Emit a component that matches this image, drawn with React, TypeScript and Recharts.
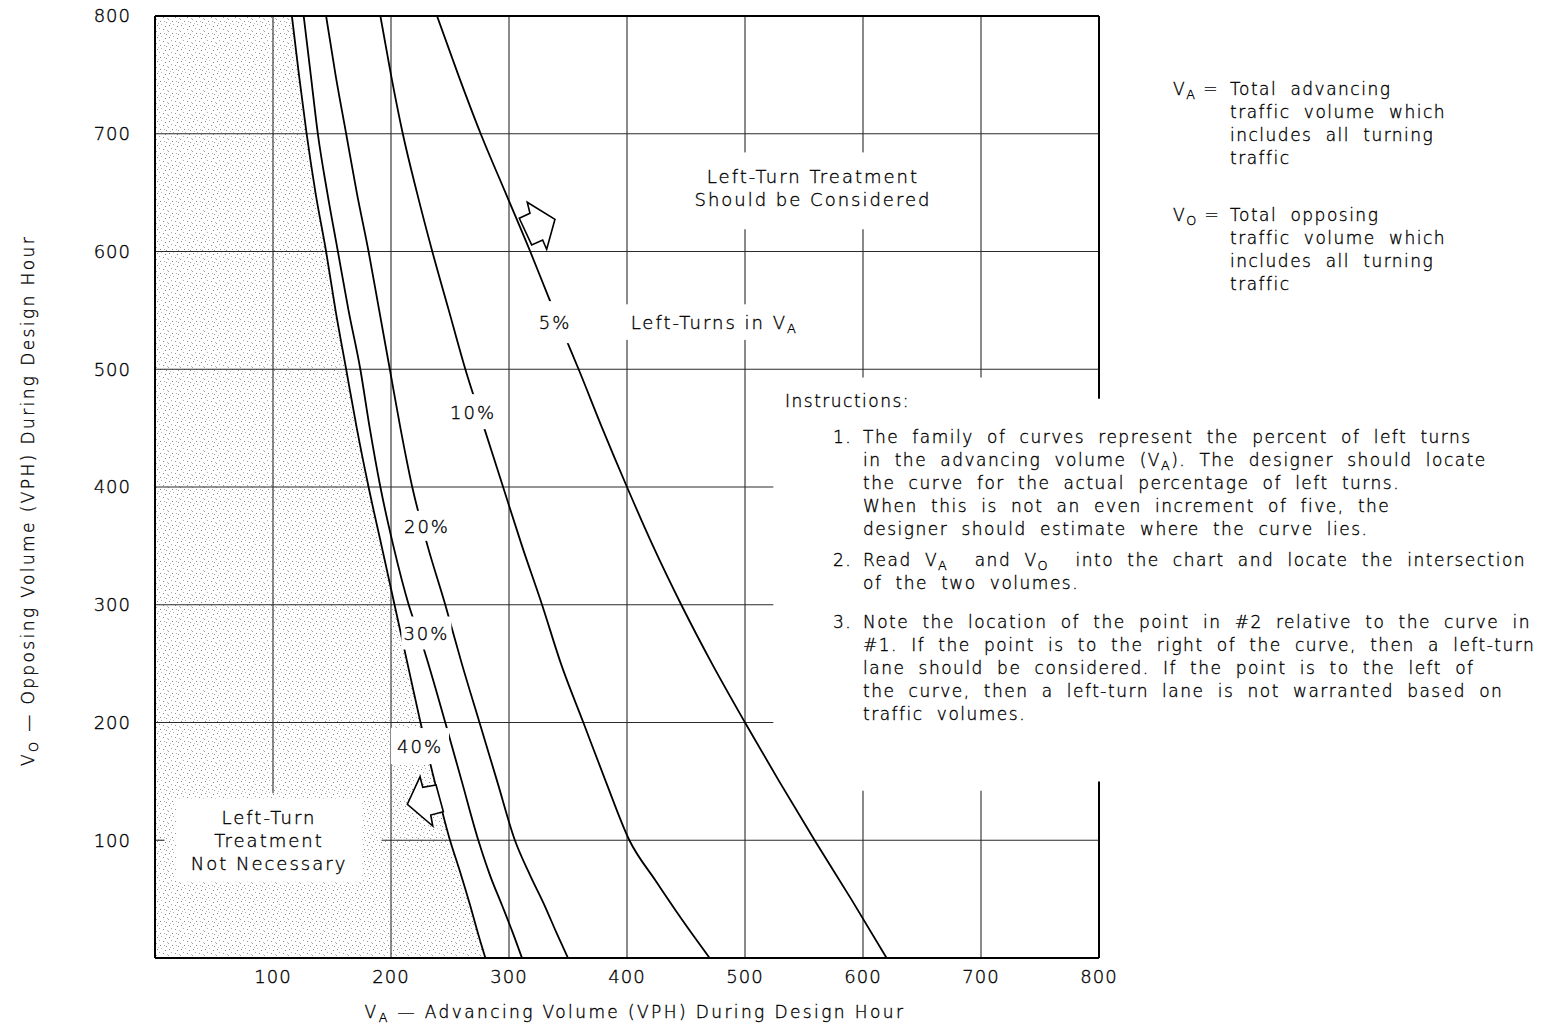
import React from 'react';
import { ComposedChart, XAxis, YAxis, Line, Area, Scatter, ReferenceLine } from 'recharts';

const xTicks = [100, 200, 300, 400, 500, 600, 700, 800];
const yTicks = [100, 200, 300, 400, 500, 600, 700, 800];

const curve5 = [
  { x: 239, y: 800 }, { x: 257, y: 750 }, { x: 276, y: 700 }, { x: 297, y: 650 },
  { x: 318, y: 600 }, { x: 334, y: 560 }, { x: 349, y: 524 }, { x: 359, y: 500 },
  { x: 379, y: 450 }, { x: 400, y: 400 }, { x: 422, y: 350 }, { x: 446, y: 300 },
  { x: 472, y: 250 }, { x: 500, y: 200 }, { x: 529, y: 150 }, { x: 559, y: 100 },
  { x: 590, y: 50 }, { x: 620, y: 0 },
];
const curve10 = [
  { x: 191, y: 800 }, { x: 200, y: 750 }, { x: 210, y: 700 }, { x: 222, y: 650 },
  { x: 235, y: 600 }, { x: 249, y: 550 }, { x: 263, y: 500 }, { x: 279, y: 450 },
  { x: 295, y: 400 }, { x: 311, y: 350 }, { x: 328, y: 300 }, { x: 344, y: 250 },
  { x: 363, y: 200 }, { x: 382, y: 150 }, { x: 402, y: 100 }, { x: 424, y: 66 },
  { x: 447, y: 32 }, { x: 470, y: 0 },
];
const curve20 = [
  { x: 145, y: 800 }, { x: 153, y: 750 }, { x: 162, y: 700 }, { x: 171, y: 650 },
  { x: 181, y: 600 }, { x: 190, y: 550 }, { x: 199, y: 500 }, { x: 208, y: 450 },
  { x: 218, y: 400 }, { x: 231, y: 350 }, { x: 246, y: 300 }, { x: 260, y: 250 },
  { x: 275, y: 200 }, { x: 290, y: 150 }, { x: 305, y: 100 }, { x: 318, y: 70 },
  { x: 330, y: 45 }, { x: 340, y: 22 }, { x: 350, y: 0 },
];
const curve30 = [
  { x: 126, y: 800 }, { x: 132, y: 750 }, { x: 138, y: 700 }, { x: 146, y: 650 },
  { x: 155, y: 600 }, { x: 164, y: 550 }, { x: 174, y: 500 }, { x: 182, y: 450 },
  { x: 191, y: 400 }, { x: 202, y: 350 }, { x: 215, y: 300 }, { x: 227, y: 265 },
  { x: 246, y: 200 }, { x: 260, y: 150 }, { x: 274, y: 100 }, { x: 284, y: 70 },
  { x: 294, y: 45 }, { x: 303, y: 22 }, { x: 311, y: 0 },
];
const curve40 = [
  { x: 116, y: 800 }, { x: 122, y: 750 }, { x: 128.5, y: 700 }, { x: 136, y: 650 },
  { x: 145, y: 600 }, { x: 153, y: 550 }, { x: 162, y: 500 }, { x: 171, y: 450 },
  { x: 181, y: 400 }, { x: 192, y: 350 }, { x: 203, y: 300 }, { x: 214, y: 250 },
  { x: 225, y: 200 }, { x: 237, y: 150 }, { x: 250, y: 100 }, { x: 258, y: 75 },
  { x: 267, y: 45 }, { x: 274, y: 20 }, { x: 280, y: 0 },
];
const shadedRegion = [{ x: 0, y: 800 }, ...curve40];

// grid segments in data units: [x1, y1, x2, y2]
const gridSegments = [
  [100, 800, 100, 140],
  [200, 800, 200, 0],
  [300, 800, 300, 0],
  [400, 800, 400, 555], [400, 525, 400, 0],
  [500, 800, 500, 680], [500, 619, 500, 555], [500, 525, 500, 0],
  [600, 800, 600, 680], [600, 619, 600, 493], [600, 142, 600, 0],
  [700, 800, 700, 493], [700, 142, 700, 0],
  [0, 700, 800, 700], [0, 600, 800, 600], [0, 500, 800, 500],
  [0, 400, 524, 400], [0, 300, 524, 300], [0, 200, 524, 200],
  [0, 100, 8, 100], [192, 100, 800, 100],
];
const borderSegments = [
  [0, 800, 800, 800],
  [800, 800, 800, 475], [800, 150, 800, 0],
];

const plotLabels = [
  { id: 'p5', x: 339, y: 540, lines: ['5%'] },
  { id: 'p10', x: 269.5, y: 464, lines: ['10%'] },
  { id: 'p20', x: 230.5, y: 367, lines: ['20%'] },
  { id: 'p30', x: 230, y: 276, lines: ['30%'] },
  { id: 'p40', x: 224.6, y: 180, lines: ['40%'] },
  { id: 'lt', x: 474, y: 540, lines: ['Left-Turns in V_A'] },
  { id: 'sc', x: 557.6, y: 654, lines: ['Left-Turn Treatment', 'Should be Considered'] },
  { id: 'nn', x: 96.6, y: 100, lines: ['Left-Turn', 'Treatment', 'Not Necessary'] },
];
const arrowAnchors = [
  { id: 'right', x: 323.7, y: 621.7 },
  { id: 'left', x: 231.4, y: 129.1 },
];

const legendBlocks = [
  { sym: 'V_A =', lines: ['Total advancing', 'traffic volume which', 'includes all turning', 'traffic'] },
  { sym: 'V_O =', lines: ['Total opposing', 'traffic volume which', 'includes all turning', 'traffic'] },
];
const instructionsTitle = 'Instructions:';
const instructionItems = [
  {
    num: '1.',
    lines: [
      'The family of curves represent the percent of left turns',
      'in the advancing volume (V_A). The designer should locate',
      'the curve for the actual percentage of left turns.',
      'When this is not an even increment of five, the',
      'designer should estimate where the curve lies.',
    ],
  },
  {
    num: '2.',
    lines: [
      'Read V_A  and V_O  into the chart and locate the intersection',
      'of the two volumes.',
    ],
  },
  {
    num: '3.',
    lines: [
      'Note the location of the point in #2 relative to the curve in',
      '#1. If the point is to the right of the curve, then a left-turn',
      'lane should be considered. If the point is to the left of',
      'the curve, then a left-turn lane is not warranted based on',
      'traffic volumes.',
    ],
  },
];
const xAxisTitle = 'V_A — Advancing Volume (VPH) During Design Hour';
const yAxisTitle = 'V_O — Opposing Volume (VPH) During Design Hour';

// ---------- styles ----------
const FONT = '"DejaVu Sans", "Liberation Sans", sans-serif';
const FW = 200;
const INK = '#000';
const STROKE_W = 0.35;
const labelBoxes: Record<string, { w: number; h: number }> = {
  p5: { w: 50, h: 42 },
  p10: { w: 56, h: 35 },
  p20: { w: 60, h: 30 },
  p30: { w: 50, h: 33 },
  p40: { w: 58, h: 36 },
  lt: { w: 186, h: 35 },
  sc: { w: 245, h: 71 },
  nn: { w: 186, h: 83 },
};
const arrowShapes: Record<string, number[][]> = {
  right: [[-17.7, -7.7], [-7, -12.7], [-9.7, -23.7], [18, -6.7], [9.7, 23.3], [5.7, 14], [-5.3, 19]],
  left: [[8, -21], [-5.3, -18.7], [-8, -29.3], [-20.7, -1.7], [4.7, 20], [2.7, 9], [15.3, 5.7]],
};

function HtmlSub({ s }: { s: string }) {
  const parts = s.split(/(V_[AO])/);
  return (
    <>
      {parts.map((p, i) =>
        /^V_[AO]$/.test(p) ? (
          <span key={i}>
            V<span style={{ fontSize: '0.75em', position: 'relative', top: '0.35em' }}>{p[2]}</span>
          </span>
        ) : (
          <span key={i}>{p}</span>
        )
      )}
    </>
  );
}

function SvgSub({ s }: { s: string }) {
  const parts = s.split(/(V_[AO])/);
  const out: React.ReactNode[] = [];
  parts.forEach((p, i) => {
    if (/^V_[AO]$/.test(p)) {
      out.push(<tspan key={i + 'v'}>V</tspan>);
      out.push(
        <tspan key={i + 's'} dy={6} fontSize={13}>
          {p[2]}
        </tspan>
      );
      out.push(<tspan key={i + 'r'} dy={-6}>{''}</tspan>);
    } else if (p) {
      out.push(<tspan key={i}>{p}</tspan>);
    }
  });
  return <>{out}</>;
}

const LabelShape = (props: any) => {
  const { cx, cy, payload } = props;
  if (cx == null || cy == null || !payload) return null;
  const box = labelBoxes[payload.id];
  const n = payload.lines.length;
  const lh = 23;
  return (
    <g>
      <rect x={cx - box.w / 2} y={cy - box.h / 2} width={box.w} height={box.h} fill="#fff" />
      {payload.lines.map((ln: string, i: number) => (
        <text
          key={i}
          x={cx}
          y={cy + (i - (n - 1) / 2) * lh}
          textAnchor="middle"
          dominantBaseline="central"
          fontFamily={FONT}
          fontWeight={FW}
          fontSize={18}
          letterSpacing={2}
          fill={INK}
          stroke={INK}
          strokeWidth={STROKE_W}
        >
          <SvgSub s={ln} />
        </text>
      ))}
    </g>
  );
};

const ArrowShape = (props: any) => {
  const { cx, cy, payload } = props;
  if (cx == null || cy == null || !payload) return null;
  const pts = arrowShapes[payload.id].map(([dx, dy]) => `${cx + dx},${cy + dy}`).join(' ');
  return <polygon points={pts} fill="#fff" stroke="#000" strokeWidth={1.6} strokeLinejoin="miter" />;
};

const tickStyle = {
  fontFamily: FONT,
  fontWeight: FW,
  fontSize: 18,
  fill: INK,
  stroke: INK,
  strokeWidth: STROKE_W,
  letterSpacing: 1,
} as any;

const textBase: React.CSSProperties = {
  position: 'absolute',
  fontFamily: FONT,
  fontWeight: FW,
  fontSize: 17,
  letterSpacing: 1.5,
  wordSpacing: 6.3,
  color: INK,
  whiteSpace: 'pre',
  lineHeight: '23px',
  height: 23,
  WebkitTextStroke: `${STROKE_W}px ${INK}`,
} as any;

export default function App() {
  const W = 1543;
  const H = 1028;
  const curves = [curve5, curve10, curve20, curve30, curve40];
  return (
    <div style={{ position: 'relative', width: W, height: H, background: '#fff', overflow: 'hidden' }}>
      <style>{'html,body{margin:0;padding:0;background:#fff;}'}</style>
      <ComposedChart width={W} height={H} margin={{ top: 16, left: 95, right: 444, bottom: 30 }}>
        <defs>
          <pattern id="stipple" width="12" height="12" patternUnits="userSpaceOnUse">
            <rect x="0" y="0" width="12" height="12" fill="#fefefe" />
            <rect x="1" y="1" width="1" height="1" fill="#8a8a8a" />
            <rect x="5" y="0" width="1" height="1" fill="#b8b8b8" />
            <rect x="9" y="2" width="1" height="1" fill="#7d7d7d" />
            <rect x="3" y="4" width="1" height="1" fill="#a8a8a8" />
            <rect x="7" y="5" width="1" height="1" fill="#909090" />
            <rect x="11" y="6" width="1" height="1" fill="#bdbdbd" />
            <rect x="0" y="7" width="1" height="1" fill="#a0a0a0" />
            <rect x="4" y="9" width="1" height="1" fill="#858585" />
            <rect x="8" y="9" width="1" height="1" fill="#b0b0b0" />
            <rect x="2" y="11" width="1" height="1" fill="#c0c0c0" />
            <rect x="10" y="10" width="1" height="1" fill="#959595" />
          </pattern>
        </defs>
        <XAxis
          type="number"
          dataKey="x"
          domain={[0, 800]}
          ticks={xTicks}
          allowDataOverflow
          height={40}
          tickLine={false}
          tickSize={0}
          tickMargin={12}
          axisLine={{ stroke: '#000', strokeWidth: 2 }}
          tick={tickStyle}
          interval={0}
        />
        <YAxis
          type="number"
          dataKey="y"
          domain={[0, 800]}
          ticks={yTicks}
          allowDataOverflow
          width={60}
          tickLine={false}
          tickSize={0}
          tickMargin={24}
          axisLine={{ stroke: '#000', strokeWidth: 2 }}
          tick={tickStyle}
          interval={0}
        />
        <Area
          data={shadedRegion}
          dataKey="y"
          type="linear"
          baseValue={0}
          stroke="none"
          fill="url(#stipple)"
          fillOpacity={1}
          isAnimationActive={false}
          dot={false}
          activeDot={false}
        />
        {gridSegments.map((s, i) => (
          <ReferenceLine
            key={'g' + i}
            segment={[{ x: s[0], y: s[1] }, { x: s[2], y: s[3] }]}
            stroke="#2a2a2a"
            strokeWidth={1.1}
            ifOverflow="visible"
          />
        ))}
        {borderSegments.map((s, i) => (
          <ReferenceLine
            key={'b' + i}
            segment={[{ x: s[0], y: s[1] }, { x: s[2], y: s[3] }]}
            stroke="#000"
            strokeWidth={2}
            ifOverflow="visible"
          />
        ))}
        {curves.map((c, i) => (
          <Line
            key={'c' + i}
            data={c}
            dataKey="y"
            type="monotone"
            stroke="#000"
            strokeWidth={1.8}
            dot={false}
            activeDot={false}
            isAnimationActive={false}
          />
        ))}
        <Scatter data={plotLabels} shape={LabelShape} isAnimationActive={false} />
        <Scatter data={arrowAnchors} shape={ArrowShape} isAnimationActive={false} />
      </ComposedChart>

      {/* Y axis title */}
      <div
        style={{
          ...textBase,
          letterSpacing: 2.4,
          wordSpacing: 0,
          left: 28 - 320,
          top: 500 - 11.5,
          width: 640,
          textAlign: 'center',
          transform: 'rotate(-90deg)',
          transformOrigin: '50% 50%',
        }}
      >
        <HtmlSub s={yAxisTitle} />
      </div>
      {/* X axis title */}
      <div
        style={{
          ...textBase,
          letterSpacing: 2.4,
          wordSpacing: 0,
          left: 635 - 320,
          top: 1012 - 11.5,
          width: 640,
          textAlign: 'center',
        }}
      >
        <HtmlSub s={xAxisTitle} />
      </div>

      {/* Legend */}
      {legendBlocks.map((b, bi) => {
        const cy0 = bi === 0 ? 89 : 215;
        return (
          <React.Fragment key={'lg' + bi}>
            <div style={{ ...textBase, wordSpacing: 0, left: 1173, top: cy0 - 11.5 }}>
              <HtmlSub s={b.sym} />
            </div>
            {b.lines.map((ln, li) => (
              <div key={li} style={{ ...textBase, left: 1230, top: cy0 + li * 23 - 11.5 }}>
                {ln}
              </div>
            ))}
          </React.Fragment>
        );
      })}

      {/* Instructions */}
      <div style={{ ...textBase, left: 785, top: 401 - 11.5 }}>{instructionsTitle}</div>
      {instructionItems.map((it, ii) => {
        const starts = [437, 560, 622];
        const cy0 = starts[ii];
        return (
          <React.Fragment key={'in' + ii}>
            <div style={{ ...textBase, left: 833, top: cy0 - 11.5 }}>{it.num}</div>
            {it.lines.map((ln, li) => (
              <div key={li} style={{ ...textBase, left: 863, top: cy0 + li * 23 - 11.5 }}>
                <HtmlSub s={ln} />
              </div>
            ))}
          </React.Fragment>
        );
      })}
    </div>
  );
}
